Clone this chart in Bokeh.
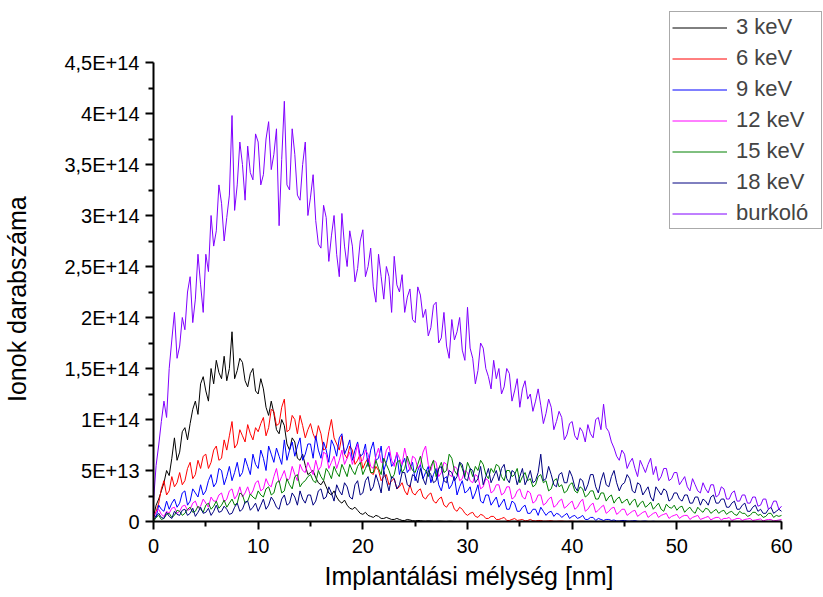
import numpy as np
from bokeh.plotting import figure
from bokeh.models import Range1d, FixedTicker, CustomJSTickFormatter, Title
from bokeh.embed import file_html
from bokeh.resources import INLINE

# Depth grid [nm], 0.25 nm step
depth = [i * 0.25 for i in range(241)]

# Ion counts, units of 1E12; one row = 5 nm
kev3 = [5, 16, 22, 30, 38, 50, 45, 62, 82, 60, 68, 88, 92, 80, 96, 110, 118, 105, 135, 142,
        128, 118, 150, 135, 158, 146, 140, 162, 138, 150, 186, 140, 148, 160, 156, 138, 132, 145, 150, 128,
        125, 140, 130, 112, 104, 118, 106, 90, 86, 100, 94, 76, 70, 82, 78, 62, 60, 66, 55, 46,
        48, 50, 43, 38, 36, 40, 34, 28, 26, 30, 24, 20, 18, 21, 16, 13, 12, 14, 11, 8,
        7, 9, 6, 5, 4, 6, 5, 3, 3, 4, 3, 2, 2, 3, 2, 1, 1, 2, 1.5, 0.8,
        0.5, 1, 0.8, 0.4, 0.3, 0.6, 0.4, 0.2, 0.2, 0.4, 0.3, 0.1, 0, 0.3, 0.2, 0, 0, 0.1, 0, 0,
        0, 0, 0, 0, 0, 0, 0, 0, 0, 0, 0, 0, 0, 0, 0, 0, 0, 0, 0, 0,
        0, 0, 0, 0, 0, 0, 0, 0, 0, 0, 0, 0, 0, 0, 0, 0, 0, 0, 0, 0,
        0, 0, 0, 0, 0, 0, 0, 0, 0, 0, 0, 0, 0, 0, 0, 0, 0, 0, 0, 0,
        0, 0, 0, 0, 0, 0, 0, 0, 0, 0, 0, 0, 0, 0, 0, 0, 0, 0, 0, 0,
        0, 0, 0, 0, 0, 0, 0, 0, 0, 0, 0, 0, 0, 0, 0, 0, 0, 0, 0, 0,
        0, 0, 0, 0, 0, 0, 0, 0, 0, 0, 0, 0, 0, 0, 0, 0, 0, 0, 0, 0,
        0]
kev6 = [3, 10, 18, 32, 40, 26, 30, 44, 34, 38, 48, 36, 40, 52, 58, 42, 46, 60, 52, 64,
        66, 52, 58, 70, 74, 60, 62, 80, 70, 84, 98, 72, 76, 90, 84, 78, 95, 86, 80, 92,
        88, 96, 102, 84, 92, 110, 108, 94, 96, 112, 120, 88, 90, 104, 100, 86, 104, 94, 82, 90,
        96, 86, 80, 94, 86, 70, 72, 88, 100, 82, 76, 70, 84, 66, 62, 74, 70, 56, 60, 66,
        52, 58, 62, 48, 46, 54, 50, 40, 44, 46, 36, 40, 42, 32, 34, 38, 30, 26, 36, 28,
        26, 30, 32, 24, 22, 26, 28, 20, 18, 22, 24, 16, 14, 18, 19, 12, 10, 14, 12, 8,
        6, 8, 9, 5, 4, 7, 6, 3, 3, 5, 5, 2, 2, 3, 4, 1, 1, 2, 3, 1,
        1.5, 2, 0.5, 1, 2, 0.8, 0.5, 1, 1, 0.3, 0.3, 0.6, 0.8, 0.2, 0.2, 0.4, 0.5, 0.2, 0.1, 0.3,
        0.3, 0.1, 0, 0.2, 0.2, 0, 0, 0.1, 0, 0, 0, 0, 0, 0, 0, 0, 0, 0, 0, 0,
        0, 0, 0, 0, 0, 0, 0, 0, 0, 0, 0, 0, 0, 0, 0, 0, 0, 0, 0, 0,
        0, 0, 0, 0, 0, 0, 0, 0, 0, 0, 0, 0, 0, 0, 0, 0, 0, 0, 0, 0,
        0, 0, 0, 0, 0, 0, 0, 0, 0, 0, 0, 0, 0, 0, 0, 0, 0, 0, 0, 0,
        0]
kev9 = [8, 4, 16, 12, 10, 20, 12, 18, 22, 14, 18, 28, 30, 16, 20, 32, 28, 24, 36, 26,
        30, 40, 46, 34, 38, 52, 50, 36, 44, 54, 40, 48, 58, 44, 48, 62, 54, 46, 66, 56,
        52, 70, 62, 50, 74, 66, 58, 72, 64, 56, 80, 60, 70, 78, 64, 74, 82, 60, 66, 76,
        76, 62, 84, 70, 62, 78, 70, 58, 80, 74, 64, 82, 86, 66, 72, 80, 60, 70, 78, 64,
        66, 76, 54, 70, 78, 60, 62, 74, 50, 58, 68, 54, 58, 66, 46, 56, 62, 48, 52, 58,
        40, 50, 56, 42, 48, 54, 38, 46, 52, 36, 30, 42, 44, 32, 36, 44, 26, 34, 40, 28,
        30, 34, 22, 28, 36, 20, 18, 26, 26, 16, 20, 24, 14, 18, 22, 12, 12, 20, 18, 10,
        10, 14, 16, 8, 8, 12, 12, 6, 14, 10, 6, 9, 10, 5, 8, 7, 4, 6, 8, 3,
        5, 6, 3, 4, 6, 2, 2, 4, 4, 1, 3, 2, 1, 2, 2, 1, 1.5, 0.5, 0.5, 1,
        1, 0.4, 0.3, 0.6, 0.8, 0.2, 0, 0.3, 0.4, 0, 0, 0.2, 0, 0, 0, 0, 0, 0, 0, 0,
        0, 0, 0, 0, 0, 0, 0, 0, 0, 0, 0, 0, 0, 0, 0, 0, 0, 0, 0, 0,
        0, 0, 0, 0, 0, 0, 0, 0, 0, 0, 0, 0, 0, 0, 0, 0, 0, 0, 0, 0,
        0]
kev12 = [6, 9, 12, 7, 5, 10, 8, 13, 14, 8, 10, 15, 16, 11, 12, 18, 20, 13, 15, 22,
         18, 14, 24, 20, 20, 26, 28, 19, 22, 30, 32, 22, 26, 34, 24, 28, 34, 26, 30, 38,
         40, 30, 32, 42, 36, 34, 44, 52, 38, 44, 50, 40, 42, 54, 46, 40, 56, 50, 48, 58,
         52, 46, 60, 50, 54, 68, 66, 52, 58, 64, 52, 60, 70, 56, 62, 68, 56, 64, 76, 58,
         60, 70, 66, 54, 52, 64, 72, 58, 58, 70, 74, 60, 54, 68, 62, 56, 72, 60, 50, 64,
         62, 52, 56, 68, 74, 56, 50, 60, 58, 44, 48, 58, 56, 46, 44, 54, 52, 40, 42, 50,
         48, 40, 38, 46, 44, 32, 34, 42, 40, 28, 30, 36, 36, 26, 28, 34, 34, 22, 24, 30,
         32, 24, 22, 30, 28, 18, 20, 26, 26, 16, 18, 22, 24, 14, 16, 20, 22, 13, 15, 18,
         20, 12, 14, 19, 22, 10, 12, 16, 18, 9, 11, 14, 16, 8, 10, 13, 14, 7, 9, 12,
         12, 6, 8, 10, 11, 5, 7, 9, 10, 4, 6, 8, 9, 4, 6, 7, 8, 3, 5, 6,
         7, 3, 5, 6, 6, 2, 4, 5, 6, 2, 3, 4, 5, 1.5, 3, 4, 4, 1.5, 3, 3,
         4, 1, 2, 3, 3, 1, 2, 2.5, 3, 1, 1.5, 2, 2.5, 0.5, 1.5, 2, 2, 0.5, 1, 1.5,
         2]
kev15 = [0, 4, 6, 2, 3, 7, 8, 4, 6, 11, 10, 6, 8, 12, 14, 9, 10, 15, 12, 9,
         16, 18, 12, 15, 20, 13, 16, 21, 14, 18, 22, 16, 18, 28, 26, 18, 20, 27, 24, 22,
         30, 26, 24, 32, 34, 26, 28, 38, 40, 28, 30, 42, 36, 32, 44, 46, 34, 38, 40, 44,
         46, 40, 38, 50, 44, 40, 52, 48, 42, 54, 48, 44, 56, 50, 44, 56, 50, 46, 54, 58,
         46, 52, 58, 48, 48, 60, 52, 46, 62, 56, 50, 42, 46, 58, 60, 48, 52, 64, 56, 50,
         48, 56, 64, 52, 50, 44, 54, 60, 44, 52, 58, 48, 50, 66, 62, 50, 46, 58, 52, 44,
         58, 52, 44, 54, 50, 60, 56, 46, 42, 52, 48, 56, 54, 44, 40, 50, 50, 44, 46, 52,
         38, 44, 48, 40, 42, 34, 36, 44, 46, 38, 40, 30, 32, 40, 42, 34, 36, 28, 30, 36,
         38, 30, 28, 34, 32, 24, 26, 30, 30, 22, 22, 28, 28, 20, 24, 26, 18, 22, 24, 18,
         20, 22, 16, 20, 22, 14, 18, 20, 14, 16, 19, 12, 15, 18, 12, 10, 17, 14, 13, 16,
         11, 14, 15, 9, 12, 14, 10, 8, 14, 11, 9, 13, 12, 8, 10, 12, 8, 10, 11, 7,
         9, 10, 7, 6, 10, 8, 8, 5, 6, 9, 9, 6, 7, 4, 5, 8, 8, 4, 6, 5,
         6]
kev18 = [2, 5, 8, 4, 3, 9, 5, 3, 10, 7, 6, 11, 12, 6, 8, 13, 5, 9, 14, 8,
         9, 13, 6, 10, 16, 9, 10, 15, 12, 7, 8, 14, 18, 10, 12, 19, 20, 11, 14, 18,
         10, 16, 22, 12, 16, 24, 20, 14, 12, 22, 26, 16, 18, 28, 24, 16, 30, 22, 18, 26,
         26, 16, 20, 30, 32, 22, 24, 34, 28, 20, 36, 30, 26, 38, 34, 24, 22, 36, 40, 26,
         28, 40, 44, 30, 34, 46, 38, 28, 50, 40, 30, 44, 42, 32, 36, 48, 48, 36, 34, 46,
         44, 38, 52, 42, 36, 50, 46, 38, 40, 52, 54, 40, 38, 50, 48, 40, 44, 58, 56, 42,
         40, 52, 50, 38, 42, 54, 36, 44, 52, 38, 44, 50, 40, 52, 56, 42, 38, 50, 48, 36,
         44, 52, 36, 42, 50, 38, 40, 48, 66, 40, 42, 54, 46, 36, 34, 46, 48, 38, 38, 50,
         44, 34, 30, 42, 40, 30, 36, 46, 46, 34, 28, 40, 48, 36, 34, 44, 50, 38, 30, 36,
         38, 46, 42, 30, 28, 38, 36, 26, 30, 34, 24, 20, 34, 30, 26, 32, 30, 20, 22, 28,
         28, 22, 20, 26, 26, 18, 18, 24, 24, 16, 22, 20, 16, 24, 26, 18, 18, 22, 22, 14,
         14, 18, 20, 12, 12, 16, 18, 10, 10, 14, 16, 10, 12, 8, 8, 12, 14, 8, 10, 12,
         10]
burkolo = [20, 55, 75, 98, 118, 102, 150, 178, 205, 160, 172, 200, 188, 225, 240, 195, 218, 262, 232, 205,
           262, 245, 300, 270, 285, 330, 312, 275, 298, 320, 398, 305, 330, 372, 350, 315, 368, 342, 335, 380,
           372, 330, 340, 375, 392, 345, 360, 385, 290, 355, 412, 330, 325, 385, 360, 320, 315, 350, 372, 300,
           318, 340, 295, 272, 268, 310, 298, 255, 280, 300, 262, 240, 302, 270, 250, 285, 270, 235, 248, 275,
           286, 240, 250, 268, 230, 215, 262, 240, 218, 250, 240, 205, 260, 232, 225, 242, 205, 220, 228, 198,
           195, 230, 222, 200, 208, 182, 190, 212, 215, 175, 180, 205, 172, 160, 198, 178, 186, 200, 168, 158,
           210, 170, 160, 135, 148, 175, 170, 150, 142, 130, 158, 140, 150, 125, 132, 150, 145, 118, 128, 140,
           112, 130, 138, 120, 125, 108, 118, 130, 114, 96, 106, 120, 112, 90, 98, 108, 102, 80, 85, 96,
           98, 84, 80, 92, 88, 78, 95, 86, 82, 100, 102, 90, 115, 92, 88, 78, 72, 64, 60, 70,
           66, 52, 58, 62, 52, 44, 60, 54, 48, 56, 62, 46, 54, 40, 44, 52, 52, 40, 42, 48,
           48, 36, 40, 44, 34, 30, 42, 36, 30, 28, 38, 32, 28, 36, 36, 24, 26, 34, 32, 22,
           22, 28, 30, 20, 20, 26, 26, 18, 18, 24, 24, 15, 16, 22, 22, 12, 14, 20, 20, 12,
           15]

series_names = ["3 keV", "6 keV", "9 keV", "12 keV", "15 keV", "18 keV", "burkoló"]
series_values = [kev3, kev6, kev9, kev12, kev15, kev18, burkolo]
series_colors = ["#000000", "#ff0000", "#0000ff", "#ff00ff", "#008000", "#000080", "#8000ff"]
for nm, vals in zip(series_names, series_values):
    if len(vals) != len(depth):
        raise ValueError(f"{nm}: {len(vals)} values")

x_ticks = [0, 10, 20, 30, 40, 50, 60]
x_minor = [5, 15, 25, 35, 45, 55]
y_ticks = [0, 5e13, 1e14, 1.5e14, 2e14, 2.5e14, 3e14, 3.5e14, 4e14, 4.5e14]
y_minor = [2.5e13, 7.5e13, 1.25e14, 1.75e14, 2.25e14, 2.75e14, 3.25e14, 3.75e14, 4.25e14]
x_axis_end = 60
y_axis_end = 4.5e14
x_title = "Implantálási mélység [nm]"
y_title = "Ionok darabszáma"

FONT = "Liberation Sans"

# frame spans to the right/top edges so that the legend (which sits partly
# outside the axes box) is not clipped; the axes are bounded to 0..60 / 0..4.5E14
frame_w = 823 - 153
frame_h = 597 - 76
px_per_x = 628 / x_axis_end
px_per_y = 459 / y_axis_end

p = figure(width=823, height=597, output_backend="svg", toolbar_location=None,
           x_range=Range1d(0, frame_w / px_per_x), y_range=Range1d(0, frame_h / px_per_y),
           min_border_left=153, min_border_right=0, min_border_top=0, min_border_bottom=76)
p.outline_line_color = None
p.xgrid.visible = False
p.ygrid.visible = False
p.background_fill_color = "white"

for name, vals, col in zip(series_names, series_values, series_colors):
    p.line(depth, np.array(vals, dtype=float) * 1e12, line_color=col, line_width=1,
           legend_label=name)

for ax in (p.xaxis[0], p.yaxis[0]):
    ax.axis_line_width = 2
    ax.axis_line_color = "black"
    ax.major_tick_line_width = 2
    ax.minor_tick_line_width = 2
    ax.major_tick_in = 0
    ax.major_tick_out = 8
    ax.minor_tick_in = 0
    ax.minor_tick_out = 5
    ax.major_label_text_font = FONT
    ax.major_label_text_font_size = "20px"
    ax.major_label_text_color = "black"

p.xaxis.bounds = (0, x_axis_end)
p.yaxis.bounds = (0, y_axis_end)
p.xaxis.ticker = FixedTicker(ticks=x_ticks, minor_ticks=x_minor)
p.yaxis.ticker = FixedTicker(ticks=y_ticks, minor_ticks=y_minor)
p.yaxis.formatter = CustomJSTickFormatter(code="""
const m = Math.round(tick / 1e12) / 10;
if (m == 0) return "0";
if (m < 10) return m + "E+13";
return (m / 10).toString().replace(".", ",") + "E+14";
""")
p.xaxis.major_label_standoff = 9
p.yaxis.major_label_standoff = 6

# y title: axis label; trailing no-break spaces move the visible words down so
# they sit beside the 0..4.5E14 axis (the frame extends to the top edge)
p.yaxis.axis_label = y_title + "\u00a0" * 11
p.yaxis.axis_label_text_font = FONT
p.yaxis.axis_label_text_font_size = "25px"
p.yaxis.axis_label_text_font_style = "normal"
p.yaxis.axis_label_text_color = "black"
p.yaxis.axis_label_standoff = 30

# x title positioned under the 0..60 axis (not under the extended frame)
xt = Title(text=x_title, align="left", offset=171, standoff=8,
           text_font=FONT, text_font_size="25px", text_font_style="normal",
           text_color="black")
p.add_layout(xt, "below")

leg = p.legend[0]
leg.location = (516, 292)
leg.label_text_font = FONT
leg.label_text_font_size = "22px"
leg.glyph_width = 55
leg.glyph_height = 25
leg.label_height = 25
leg.label_width = 83
leg.spacing = 5
leg.padding = 2
leg.margin = 0
leg.label_standoff = 9
leg.border_line_color = "#555555"
leg.border_line_width = 1.5
leg.background_fill_alpha = 1

open("out.html", "w").write(file_html(p, INLINE))
